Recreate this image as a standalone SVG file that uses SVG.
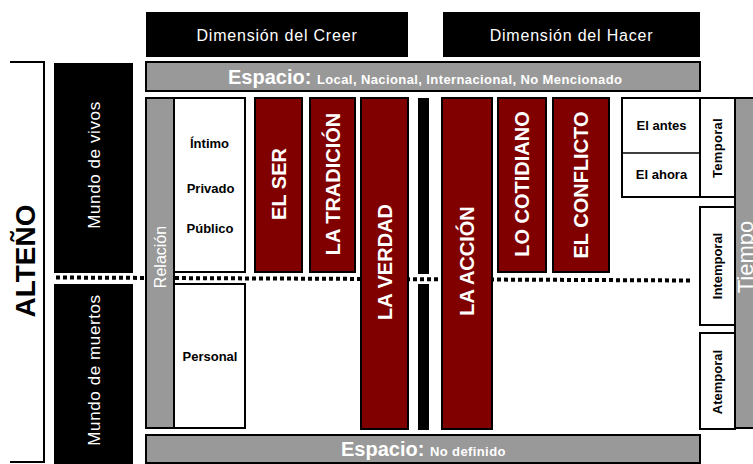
<svg xmlns="http://www.w3.org/2000/svg" width="753" height="464" viewBox="0 0 753 464">
<style>
text{font-family:"Liberation Sans",Arial,sans-serif}
.blk{fill:#000}
.gray{fill:#999;stroke:#000;stroke-width:2}
.red{fill:#800000;stroke:#000;stroke-width:2}
.wbox{fill:#fff;stroke:#000;stroke-width:2}
.dim{fill:#fff;font-size:16px;letter-spacing:0.8px;text-anchor:middle}
.big{fill:#fff;font-size:20px;font-weight:bold}
.sm{fill:#fff;font-size:13px;font-weight:bold;letter-spacing:0.4px}
.rt{fill:#fff;font-size:20px;font-weight:bold;text-anchor:middle}
.bl{fill:#000;font-size:13px;font-weight:bold;text-anchor:middle}
.mundo{fill:#fff;font-size:17px;letter-spacing:0.6px;text-anchor:middle}
</style>
<rect width="753" height="464" fill="#fff"/>

<g id="bracket"><path d="M10,62 H44 V462 H10" fill="none" stroke="#000" stroke-width="2"/></g>
<g id="alteno"><text transform="translate(35,261) rotate(-90)" text-anchor="middle" font-size="28" font-weight="bold" fill="#000">ALTEÑO</text></g>

<g id="dim-creer"><rect class="blk" x="146" y="12" width="262" height="45"/><text class="dim" x="277" y="41">Dimensión del Creer</text></g>
<g id="dim-hacer"><rect class="blk" x="443" y="12" width="257" height="45"/><text class="dim" x="571.5" y="41">Dimensión del Hacer</text></g>

<g id="espacio-top"><rect class="gray" x="146" y="62" width="554" height="29"/><text x="228" y="84"><tspan class="big">Espacio: </tspan><tspan class="sm">Local, Nacional, Internacional, No Mencionado</tspan></text></g>

<g id="mundo-vivos"><rect class="blk" x="54" y="63" width="79" height="210"/><text class="mundo" transform="translate(99.5,165) rotate(-90)">Mundo de vivos</text></g>
<g id="mundo-muertos"><rect class="blk" x="54" y="284" width="79" height="180"/><text class="mundo" transform="translate(99.5,370) rotate(-90)">Mundo de muertos</text></g>

<g id="sep-bar"><rect class="blk" x="418" y="98" width="11" height="176"/><rect class="blk" x="418" y="284" width="11" height="146"/></g>

<g id="connectors"><line x1="56" y1="277.5" x2="693" y2="280.5" stroke="#000" stroke-width="4" stroke-dasharray="4 3"/></g>

<g id="relacion"><rect class="gray" x="146" y="98" width="28" height="330"/><text transform="translate(166,257) rotate(-90)" text-anchor="middle" font-size="16" fill="#fff">Relación</text></g>
<g id="ambitos"><rect class="wbox" x="174" y="98" width="71" height="174"/><text class="bl" x="209.5" y="148">Íntimo</text><text class="bl" x="210.5" y="193">Privado</text><text class="bl" x="210" y="233">Público</text></g>
<g id="personal"><rect class="wbox" x="174" y="284" width="71" height="144"/><text class="bl" x="210" y="361">Personal</text></g>

<g id="el-ser"><rect class="red" x="255" y="98" width="47" height="174"/><text class="rt" transform="translate(285.5,184) rotate(-90)">EL SER</text></g>
<g id="la-tradicion"><rect class="red" x="310" y="98" width="45" height="174"/><text class="rt" transform="translate(339.5,184) rotate(-90)">LA TRADICIÓN</text></g>
<g id="la-verdad"><rect class="red" x="361" y="98" width="47" height="331"/><text class="rt" transform="translate(391.5,262) rotate(-90)">LA VERDAD</text></g>
<g id="la-accion"><rect class="red" x="442" y="98" width="50" height="331"/><text class="rt" transform="translate(474,261) rotate(-90)">LA ACCIÓN</text></g>
<g id="lo-cotidiano"><rect class="red" x="498" y="98" width="48" height="174"/><text class="rt" transform="translate(529,184) rotate(-90)">LO COTIDIANO</text></g>
<g id="el-conflicto"><rect class="red" x="553" y="98" width="56" height="174"/><text class="rt" transform="translate(588,185) rotate(-90)">EL CONFLICTO</text></g>

<g id="antes-ahora"><rect class="wbox" x="622" y="98" width="78" height="99"/><line x1="622" y1="153" x2="700" y2="153" stroke="#000" stroke-width="1.5"/><text class="bl" x="661.5" y="130">El antes</text><text class="bl" x="661.5" y="179">El ahora</text></g>
<g id="temporal"><rect class="wbox" x="700" y="98" width="35" height="99"/><text class="bl" letter-spacing="0.3" transform="translate(722,148) rotate(-90)">Temporal</text></g>
<g id="intemporal"><rect class="wbox" x="700" y="207" width="35" height="118"/><text class="bl" transform="translate(722,266) rotate(-90)">Intemporal</text></g>
<g id="atemporal"><rect class="wbox" x="700" y="333" width="35" height="96"/><text class="bl" transform="translate(722,382) rotate(-90)">Atemporal</text></g>
<g id="tiempo"><rect class="gray" x="735" y="98" width="30" height="330"/><text transform="translate(753,257) rotate(-90)" text-anchor="middle" font-size="22" fill="#fff">Tiempo</text></g>

<g id="espacio-bottom"><rect class="gray" x="146" y="435" width="554" height="28"/><text x="341" y="456"><tspan class="big">Espacio: </tspan><tspan class="sm">No definido</tspan></text></g>
</svg>
